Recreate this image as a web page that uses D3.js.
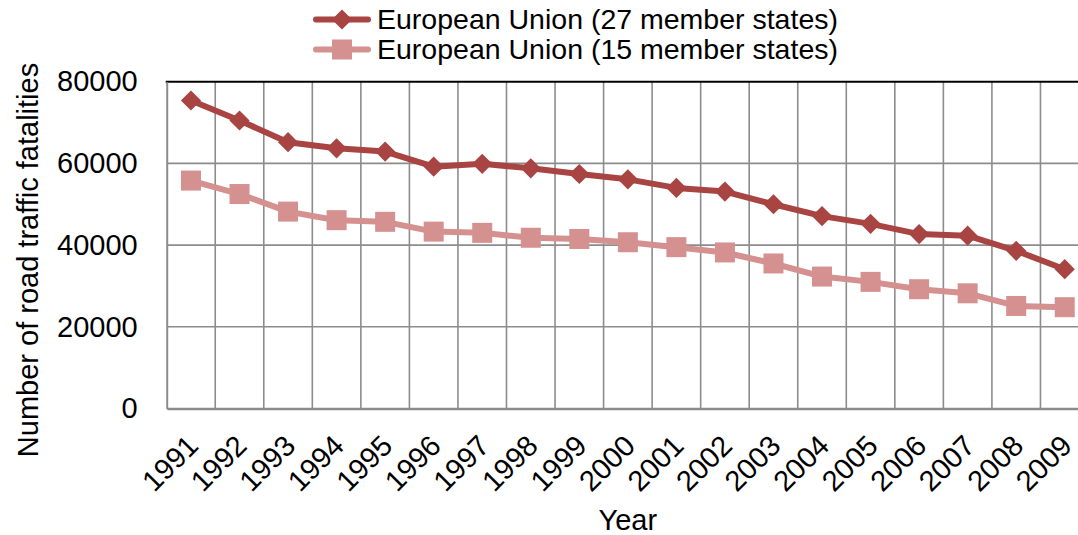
<!DOCTYPE html>
<html>
<head>
<meta charset="utf-8">
<script src="https://cdn.jsdelivr.net/npm/d3@7"></script>
<style>
  body { margin: 0; background: #fff; }
  text { font-family: "Liberation Sans", Arial, sans-serif; fill: #000; }
</style>
</head>
<body>
<svg id="chart" width="1078" height="535"></svg>
<script>
// years on the x axis
const years = ["1991", "1992", "1993", "1994", "1995", "1996", "1997", "1998", "1999", "2000",
    "2001", "2002", "2003", "2004", "2005", "2006", "2007", "2008", "2009"]
// road traffic fatalities
const eu27 = [75400, 70500, 65200, 63700, 62900, 59200, 59900, 58800, 57400, 56100,
    54000, 53100, 50000, 47100, 45200, 42700, 42300, 38600, 34100]
const eu15 = [55800, 52500, 48200, 46100, 45700, 43300, 43000, 41800, 41500, 40700,
    39500, 38200, 35500, 32300, 31000, 29200, 28200, 25100, 24800]
const yTicks = [0, 20000, 40000, 60000, 80000]
const seriesNames = ["European Union (27 member states)", "European Union (15 member states)"]

const svg = d3.select("#chart")
const plotLeft = 166.7, plotRight = 1089, plotTop = 81.7, plotBottom = 408.5
const fontSize = 29

const x = d3.scaleBand().domain(years).range([plotLeft, plotRight]).padding(0)
const y = d3.scaleLinear().domain([0, 80000]).range([plotBottom, plotTop])

const grid = svg.append("g")
// vertical lines at category boundaries
grid.selectAll(".vline")
    .data(years.slice(1))
    .enter()
    .append("line")
    .attr("x1", d => x(d)).attr("x2", d => x(d))
    .attr("y1", plotTop).attr("y2", plotBottom)
    .attr("stroke", "#8c8c8c").attr("stroke-width", 1.6)

grid.selectAll(".hline")
    .data(yTicks.filter(d => d > 0 && d < 80000))
    .enter()
    .append("line")
    .attr("x1", plotLeft).attr("x2", plotRight)
    .attr("y1", d => y(d)).attr("y2", d => y(d))
    .attr("stroke", "#8c8c8c").attr("stroke-width", 1.6)

// top line is black
grid.append("line")
    .attr("x1", plotLeft - 1).attr("x2", plotRight)
    .attr("y1", y(80000)).attr("y2", y(80000))
    .attr("stroke", "#000").attr("stroke-width", 2)

// left and bottom axes
const yAxis = svg.append("g")
    .attr("transform", "translate(" + plotLeft + ",0)")
    .call(d3.axisLeft(y).tickValues(yTicks).tickSize(0).tickPadding(29).tickFormat(d3.format("d")))
yAxis.select(".domain").attr("stroke", "#8c8c8c").attr("stroke-width", 2)
yAxis.selectAll("text").attr("font-size", fontSize).attr("font-family", "Liberation Sans, Arial, sans-serif")

const xAxis = svg.append("g")
    .attr("transform", "translate(0," + plotBottom + ")")
    .call(d3.axisBottom(x).tickSize(0).tickPadding(0))
xAxis.select(".domain").attr("stroke", "#8c8c8c").attr("stroke-width", 2.5)
xAxis.selectAll("text")
    .attr("font-size", fontSize)
    .attr("font-family", "Liberation Sans, Arial, sans-serif")
    .attr("text-anchor", "end")
    .attr("dy", 0)
    .attr("transform", "translate(9,39) rotate(-45)")

// axis titles
svg.append("text")
    .attr("x", (plotLeft + plotRight) / 2)
    .attr("y", 530)
    .attr("text-anchor", "middle")
    .attr("font-size", fontSize)
    .text("Year")

svg.append("text")
    .attr("transform", "translate(38," + 260 + ") rotate(-90)")
    .attr("text-anchor", "middle")
    .attr("font-size", fontSize)
    .text("Number of road traffic fatalities")

const colors = ["#a84442", "#d49190"]
const data = [eu27, eu15]

const line = d3.line()
    .x((d, i) => x(years[i]) + x.bandwidth() / 2)
    .y(d => y(d))

data.forEach((vals, k) => {
    svg.append("path")
        .datum(vals)
        .attr("d", line)
        .attr("fill", "none")
        .attr("stroke", colors[k])
        .attr("stroke-width", 6)
        .attr("stroke-linejoin", "round")
})

// EU27 diamonds
const diamond = d3.symbol().type(d3.symbolDiamond2).size(260)
svg.selectAll(".diamond")
    .data(eu27)
    .enter()
    .append("path")
    .attr("class", "diamond")
    .attr("d", diamond)
    .attr("transform", (d, i) => "translate(" + (x(years[i]) + x.bandwidth() / 2) + "," + y(d) + ")")
    .attr("fill", colors[0])

// EU15 squares
const sq = 20
svg.selectAll(".square")
    .data(eu15)
    .enter()
    .append("rect")
    .attr("class", "square")
    .attr("x", (d, i) => x(years[i]) + x.bandwidth() / 2 - sq / 2)
    .attr("y", d => y(d) - sq / 2)
    .attr("width", sq).attr("height", sq)
    .attr("fill", colors[1])

// legend
const legend = svg.append("g")
const legendRows = [19.5, 49.5]
seriesNames.forEach((name, k) => {
    const row = legend.append("g").attr("transform", "translate(0," + legendRows[k] + ")")
    row.append("line")
        .attr("x1", 316).attr("x2", 368)
        .attr("y1", 0).attr("y2", 0)
        .attr("stroke", colors[k]).attr("stroke-width", 6)
        .attr("stroke-linecap", "round")
    if (k === 0) {
        row.append("path")
            .attr("d", diamond)
            .attr("transform", "translate(342,0)")
            .attr("fill", colors[k])
    } else {
        row.append("rect")
            .attr("x", 342 - sq / 2).attr("y", -sq / 2)
            .attr("width", sq).attr("height", sq)
            .attr("fill", colors[k])
    }
    row.append("text")
        .attr("x", 377)
        .attr("y", 0)
        .attr("dy", "0.35em")
        .attr("font-size", 28.5)
        .text(name)
})
</script>
</body>
</html>
